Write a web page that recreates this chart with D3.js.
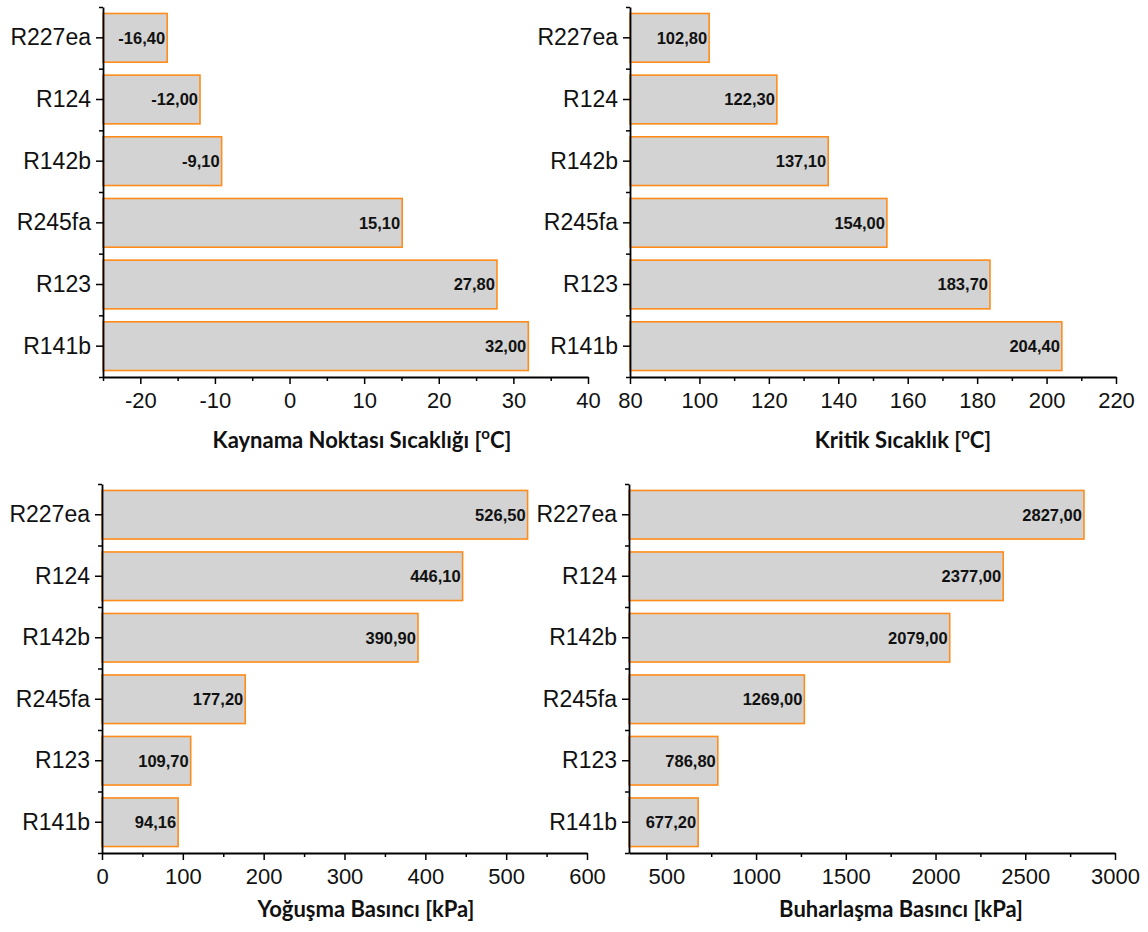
<!DOCTYPE html>
<html>
<head>
<meta charset="utf-8">
<script src="https://cdn.jsdelivr.net/npm/d3@7"></script>
<style>
  body { margin: 0; background: #fff; }
</style>
</head>
<body>
<svg id="chart" width="1148" height="932"></svg>
<script>
// refrigerants, top to bottom
const refrigerants = ["R227ea", "R124", "R142b", "R245fa", "R123", "R141b"];

const boilingPoint = [-16.40, -12.00, -9.10, 15.10, 27.80, 32.00];
const criticalTemp = [102.80, 122.30, 137.10, 154.00, 183.70, 204.40];
const condensPressure = [526.50, 446.10, 390.90, 177.20, 109.70, 94.16];
const evapPressure = [2827.00, 2377.00, 2079.00, 1269.00, 786.80, 677.20];

const boilingTicks = [-20, -10, 0, 10, 20, 30, 40];
const criticalTicks = [80, 100, 120, 140, 160, 180, 200, 220];
const condensTicks = [0, 100, 200, 300, 400, 500, 600];
const evapTicks = [500, 1000, 1500, 2000, 2500, 3000];

const svg = d3.select("#chart");
const fmt = d3.formatLocale({decimal: ",", thousands: "", grouping: [3], currency: ["", ""], minus: "-"}).format(".2f");
const arial = "'Liberation Sans', Arial, sans-serif";

const panels = [
  {values: boilingPoint, domain: [-25, 40], ticks: boilingTicks, minor: 5,
   x0: 103, x1: 588, y0: 7, y1: 377, title: ["Kaynama Noktası Sıcaklığı [", "o", "C]"], tx: 362, ty: 448},
  {values: criticalTemp, domain: [80, 220], ticks: criticalTicks, minor: 10,
   x0: 630, x1: 1116, y0: 7, y1: 377, title: ["Kritik Sıcaklık [", "o", "C]"], tx: 903, ty: 448},
  {values: condensPressure, domain: [0, 600], ticks: condensTicks, minor: 50,
   x0: 102, x1: 587, y0: 484, y1: 853, title: ["Yoğuşma Basıncı [kPa]"], tx: 366, ty: 917},
  {values: evapPressure, domain: [292, 3000], ticks: evapTicks, minor: 250,
   x0: 629, x1: 1115, y0: 484, y1: 853, title: ["Buharlaşma Basıncı [kPa]"], tx: 901, ty: 917}
];

panels.forEach(function (p) {
  const x = d3.scaleLinear().domain(p.domain).range([p.x0, p.x1]);
  const y = d3.scaleBand().domain(refrigerants).range([p.y0, p.y1]).paddingInner(0.21).paddingOuter(0.105);
  const yb = d3.scaleBand().domain(refrigerants).range([p.y0, p.y1]);
  const g = svg.append("g");

  const data = refrigerants.map((r, i) => ({name: r, v: p.values[i]}));

  g.selectAll("rect.bar")
    .data(data)
    .enter().append("rect")
    .attr("class", "bar")
    .attr("x", x(p.domain[0]))
    .attr("y", d => y(d.name))
    .attr("width", d => x(d.v) - x(p.domain[0]))
    .attr("height", y.bandwidth())
    .attr("fill", "#d3d3d3")
    .attr("stroke", "#ff8c1a")
    .attr("stroke-width", 1.6);

  g.selectAll("text.val")
    .data(data)
    .enter().append("text")
    .attr("class", "val")
    .attr("x", d => x(d.v) - 2)
    .attr("y", d => y(d.name) + y.bandwidth() / 2)
    .attr("dy", "0.36em")
    .attr("text-anchor", "end")
    .style("font-family", arial)
    .style("font-size", "16.5px")
    .style("font-weight", "bold")
    .attr("fill", "#111")
    .text(d => fmt(d.v));

  // minor ticks on x
  const minorVals = d3.range(Math.ceil(p.domain[0] / p.minor) * p.minor, p.domain[1] + 1e-9, p.minor)
    .filter(v => p.ticks.indexOf(v) < 0);
  g.append("g")
    .attr("transform", "translate(0," + p.y1 + ")")
    .call(d3.axisBottom(x).tickValues(minorVals).tickSize(4).tickFormat(""))
    .call(s => s.select(".domain").remove())
    .selectAll("line").attr("stroke", "#000").attr("stroke-width", 1.5);

  const xa = g.append("g")
    .attr("transform", "translate(0," + p.y1 + ")")
    .call(d3.axisBottom(x).tickValues(p.ticks).tickSize(7).tickSizeOuter(0).tickPadding(8));
  xa.select(".domain").attr("stroke", "#000").attr("stroke-width", 1.8);
  xa.selectAll("line").attr("stroke", "#000").attr("stroke-width", 1.5);
  xa.selectAll("text").style("font-size", "22px").style("font-family", arial).attr("fill", "#111")
    .text(d => d < 0 ? "-" + Math.abs(d) : d);

  // y axis: minor ticks at band edges
  g.append("g")
    .attr("transform", "translate(" + p.x0 + ",0)")
    .call(d3.axisLeft(d3.scaleLinear().domain([0, 6]).range([p.y0, p.y1]))
      .tickValues(d3.range(0, 7)).tickSize(4).tickFormat(""))
    .call(s => s.select(".domain").remove())
    .selectAll("line").attr("stroke", "#000").attr("stroke-width", 1.5);

  const ya = g.append("g")
    .attr("transform", "translate(" + p.x0 + ",0)")
    .call(d3.axisLeft(yb).tickSize(7).tickSizeOuter(0).tickPadding(5));
  ya.select(".domain").attr("stroke", "#000").attr("stroke-width", 1.8);
  ya.selectAll("line").attr("stroke", "#000").attr("stroke-width", 1.5);
  ya.selectAll("text").style("font-size", "23px").style("font-family", arial).attr("fill", "#111");

  const t = g.append("text")
    .attr("x", p.tx)
    .attr("y", p.ty)
    .attr("text-anchor", "middle")
    .style("font-family", "Lato, 'Open Sans', sans-serif")
    .style("font-weight", "bold")
    .style("font-size", "22px")
    .attr("fill", "#111");
  t.append("tspan").text(p.title[0]);
  if (p.title.length > 1) {
    t.append("tspan").style("font-size", "15px").attr("dy", -9).text(p.title[1]);
    t.append("tspan").attr("dy", 9).text(p.title[2]);
  }
});
</script>
</body>
</html>
